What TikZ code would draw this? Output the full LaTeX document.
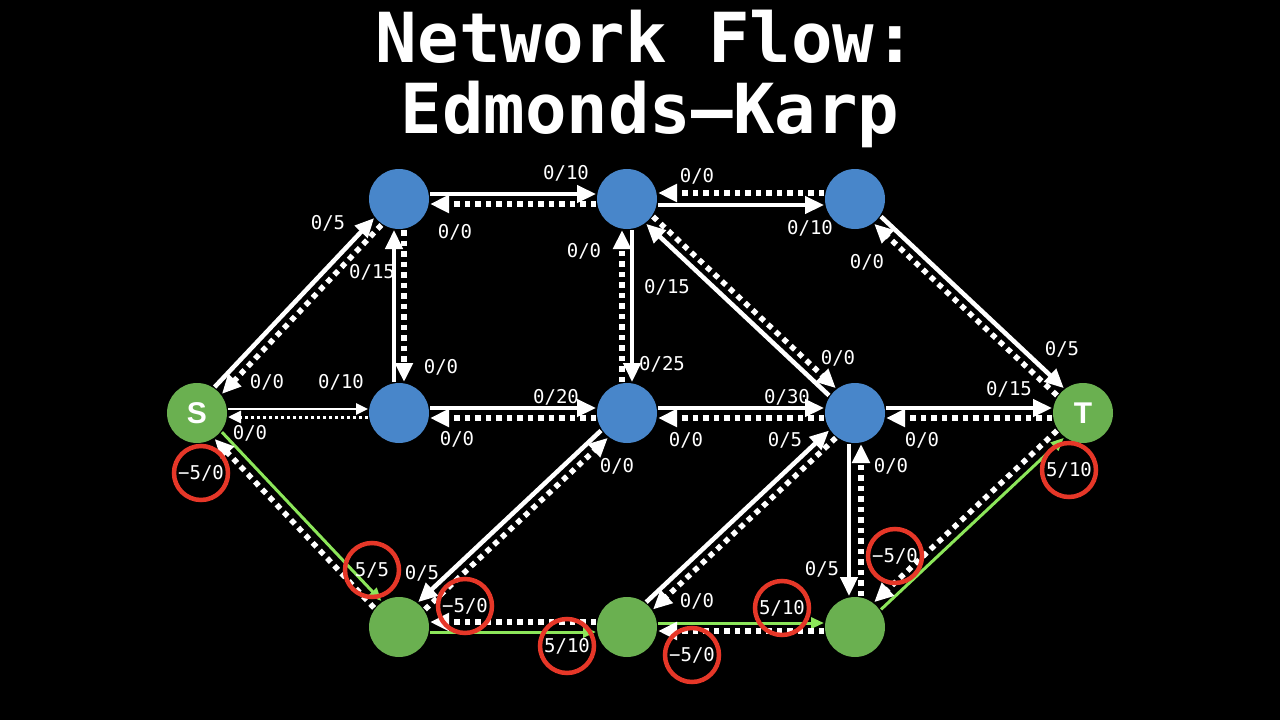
\documentclass[tikz,border=0pt]{standalone}
\usepackage{fontspec}
\newfontfamily\lblfont{DejaVu Sans Mono}
\newfontfamily\ttlfont{DejaVu Sans Mono}
\newfontfamily\nodefont{Liberation Sans}
\usetikzlibrary{calc,arrows.meta}
\definecolor{nodeblue}{RGB}{72,134,202}
\definecolor{nodegreen}{RGB}{106,176,80}
\definecolor{pathgreen}{RGB}{140,230,90}
\definecolor{redc}{RGB}{230,55,40}
\newcommand\fedge[4]{\draw[#1] ($(#2)!31pt!(#3)!#4!90:(#3)$) -- ($(#3)!31pt!(#2)!#4!-90:(#2)$);}
\tikzset{
  bnode/.style={circle, fill=nodeblue, minimum size=60pt, inner sep=0pt},
  gnode/.style={circle, fill=nodegreen, minimum size=60pt, inner sep=0pt, text=white, font=\nodefont\bfseries\fontsize{30}{30}\selectfont},
  sol/.style={draw=white, line width=4.5pt, -{Triangle[length=19pt,width=17pt]}},
  dot/.style={draw=white, line width=5.5pt, dash pattern=on 5.5pt off 5pt, -{Triangle[length=19pt,width=17pt]}},
  solt/.style={draw=white, line width=2.5pt, -{Triangle[length=12pt,width=11pt]}},
  dott/.style={draw=white, line width=3pt, dash pattern=on 3pt off 3pt, -{Triangle[length=13pt,width=12pt]}},
  grn/.style={draw=pathgreen, line width=3pt, -{Triangle[length=13pt,width=11pt]}},
  lbl/.style={text=white, font=\lblfont\fontsize{19}{19}\selectfont, inner sep=0pt},
  rc/.style={circle, draw=redc, line width=4.5pt, minimum size=54pt, inner sep=0pt},
  ttl/.style={text=white, font=\ttlfont\bfseries\fontsize{69}{69}\selectfont, inner sep=0pt, anchor=base}
}
\begin{document}
\begin{tikzpicture}[x=1pt,y=-1pt]
\fill[black] (0,0) rectangle (1280,720);
\useasboundingbox (0,0) rectangle (1280,720);
% title
\node[ttl] (t1) at (646,62) {Network Flow:};
\node[ttl] (t2) at (650,133) {Edmonds–Karp};
% nodes
\node[gnode] (S) at (197,413) {S};
\node[bnode] (A) at (399,199) {};
\node[bnode] (B) at (627,199) {};
\node[bnode] (C) at (855,199) {};
\node[bnode] (D) at (399,413) {};
\node[bnode] (E) at (627,413) {};
\node[bnode] (F) at (855,413) {};
\node[gnode] (T) at (1083,413) {T};
\node[gnode] (G) at (399,627) {};
\node[gnode] (H) at (627,627) {};
\node[gnode] (I) at (855,627) {};
% edges
\fedge{sol}{S}{A}{5pt}
\fedge{dot}{A}{S}{5pt}
\fedge{solt}{S}{D}{4pt}
\fedge{dott}{D}{S}{4pt}
\fedge{sol}{D}{A}{5pt}
\fedge{dot}{A}{D}{5pt}
\fedge{sol}{A}{B}{5pt}
\fedge{dot}{B}{A}{5pt}
\fedge{sol}{B}{C}{-6pt}
\fedge{dot}{C}{B}{-6pt}
\fedge{sol}{C}{T}{5pt}
\fedge{dot}{T}{C}{5pt}
\fedge{sol}{B}{E}{5pt}
\fedge{dot}{E}{B}{5pt}
\fedge{sol}{F}{B}{5pt}
\fedge{dot}{B}{F}{5pt}
\fedge{sol}{D}{E}{5pt}
\fedge{dot}{E}{D}{5pt}
\fedge{sol}{E}{F}{5pt}
\fedge{dot}{F}{E}{5pt}
\fedge{sol}{F}{T}{5pt}
\fedge{dot}{T}{F}{5pt}
\fedge{grn}{S}{G}{5pt}
\fedge{dot}{G}{S}{5pt}
\fedge{sol}{E}{G}{-5pt}
\fedge{dot}{G}{E}{-5pt}
\fedge{sol}{H}{F}{5pt}
\fedge{dot}{F}{H}{5pt}
\fedge{sol}{F}{I}{-6pt}
\fedge{dot}{I}{F}{-6pt}
\fedge{grn}{G}{H}{-5pt}
\fedge{dot}{H}{G}{-5pt}
\fedge{grn}{H}{I}{4pt}
\fedge{dot}{I}{H}{4pt}
\fedge{grn}{I}{T}{-5pt}
\fedge{dot}{T}{I}{-5pt}
% labels
\node[lbl] (l1) at (328,223) {0/5};
\node[lbl] (l2) at (267,382) {0/0};
\node[lbl] (l3) at (372,272) {0/15};
\node[lbl] (l4) at (441,367) {0/0};
\node[lbl] (l5) at (341,382) {0/10};
\node[lbl] (l6) at (250,433) {0/0};
\node[lbl] (l7) at (566,173) {0/10};
\node[lbl] (l8) at (455,232) {0/0};
\node[lbl] (l9) at (697,176) {0/0};
\node[lbl] (l10) at (810,228) {0/10};
\node[lbl] (l11) at (867,262) {0/0};
\node[lbl] (l12) at (1062,349) {0/5};
\node[lbl] (l13) at (584,251) {0/0};
\node[lbl] (l14) at (662,364) {0/25};
\node[lbl] (l15) at (667,287) {0/15};
\node[lbl] (l16) at (838,358) {0/0};
\node[lbl] (l17) at (556,397) {0/20};
\node[lbl] (l18) at (457,439) {0/0};
\node[lbl] (l19) at (787,397) {0/30};
\node[lbl] (l20) at (686,440) {0/0};
\node[lbl] (l21) at (1009,389) {0/15};
\node[lbl] (l22) at (922,440) {0/0};
\node[lbl] (l23) at (422,573) {0/5};
\node[lbl] (l24) at (617,466) {0/0};
\node[lbl] (l25) at (785,440) {0/5};
\node[lbl] (l26) at (697,601) {0/0};
\node[lbl] (l27) at (822,569) {0/5};
\node[lbl] (l28) at (891,466) {0/0};
% circled labels
\node[rc] (c1) at (201,473) {};
\node[rc] (c2) at (372,570) {};
\node[rc] (c3) at (465,606) {};
\node[rc] (c4) at (567,646) {};
\node[rc] (c5) at (782,608) {};
\node[rc] (c6) at (692,655) {};
\node[rc] (c7) at (895,556) {};
\node[rc] (c8) at (1069,470) {};
\node[lbl] at (c1) {−5/0};
\node[lbl] at (c2) {5/5};
\node[lbl] at (c3) {−5/0};
\node[lbl] at (c4) {5/10};
\node[lbl] at (c5) {5/10};
\node[lbl] at (c6) {−5/0};
\node[lbl] at (c7) {−5/0};
\node[lbl] at (c8) {5/10};
\end{tikzpicture}
\end{document}
